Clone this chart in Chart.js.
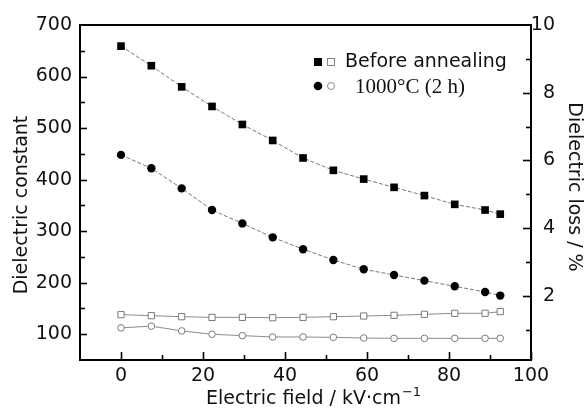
<!DOCTYPE html>
<html>
<head>
<meta charset="utf-8">
<script src="https://cdn.jsdelivr.net/npm/chart.js@4/dist/chart.umd.min.js"></script>
<style>
  html, body { margin: 0; padding: 0; background: #fff; }
  #wrap { width: 585px; height: 409px; }
</style>
</head>
<body>
<div id="wrap"><canvas id="dielChart" width="585" height="409"></canvas></div>
<script>
// electric field (kV/cm) at each measuring point
var fieldValues = [0, 7.4, 14.8, 22.2, 29.6, 37, 44.4, 51.8, 59.2, 66.6, 74, 81.4, 88.8, 92.5];

// dielectric constant (left axis)
var beforeConstant = [659, 621, 580, 542, 507, 476, 442, 418, 401, 385, 369, 352, 341, 333];
var annealedConstant = [448, 422, 383, 341, 315, 288, 265, 244, 226, 215, 204, 193, 182, 175];

// dielectric loss in % (right axis)
var beforeLoss = [1.44, 1.41, 1.38, 1.36, 1.36, 1.35, 1.36, 1.38, 1.40, 1.42, 1.45, 1.48, 1.48, 1.53];
var annealedLoss = [1.05, 1.10, 0.96, 0.86, 0.82, 0.78, 0.78, 0.77, 0.75, 0.74, 0.74, 0.74, 0.74, 0.74];

var xLabels = [0, 20, 40, 60, 80, 100];
var leftLabels = [100, 200, 300, 400, 500, 600, 700];
var rightLabels = [2, 4, 6, 8, 10];

var legendNames = ['Before annealing', '1000\u00B0C (2 h)'];
var xTitle = 'Electric field / kV\u00B7cm';
var leftTitle = 'Dielectric constant';
var rightTitle = 'Dielectric loss / %';

var sans = '"DejaVu Sans", sans-serif';
var serif = '"Liberation Serif", "Times New Roman", serif';
var ink = '#111';

function pts(ys) {
  return ys.map(function (v, i) { return { x: fieldValues[i], y: v }; });
}

// inward tick marks, top frame line, axis titles and the legend box
var decorations = {
  id: 'decorations',
  afterDraw: function (chart) {
    var ctx = chart.ctx;
    var a = chart.chartArea;
    var sx = chart.scales.x, sy = chart.scales.y, sr = chart.scales.y1;
    ctx.save();
    ctx.strokeStyle = '#000';
    ctx.lineWidth = 2;
    ctx.beginPath();
    ctx.moveTo(a.left - 1, a.top);
    ctx.lineTo(a.right + 1, a.top);
    ctx.stroke();

    ctx.lineWidth = 1.6;
    sx.ticks.forEach(function (t) {
      if (t.value <= sx.min || t.value > sx.max) return;
      var len = xLabels.indexOf(t.value) >= 0 ? 8 : 5;
      var px = Math.round(sx.getPixelForValue(t.value)) + 0.5;
      ctx.beginPath(); ctx.moveTo(px, a.bottom); ctx.lineTo(px, a.bottom - len); ctx.stroke();
    });
    sy.ticks.forEach(function (t) {
      if (t.value <= sy.min || t.value >= sy.max) return;
      var len = leftLabels.indexOf(t.value) >= 0 ? 7 : 5;
      var py = Math.round(sy.getPixelForValue(t.value)) + 0.5;
      ctx.beginPath(); ctx.moveTo(a.left, py); ctx.lineTo(a.left + len, py); ctx.stroke();
    });
    sr.ticks.forEach(function (t) {
      if (t.value <= sr.min || t.value >= sr.max) return;
      var len = rightLabels.indexOf(t.value) >= 0 ? 8 : 5;
      var py = Math.round(sr.getPixelForValue(t.value)) + 0.5;
      ctx.beginPath(); ctx.moveTo(a.right, py); ctx.lineTo(a.right - len, py); ctx.stroke();
    });

    // axis titles
    ctx.fillStyle = ink;
    ctx.font = '19px ' + sans;
    ctx.textAlign = 'center';
    ctx.textBaseline = 'middle';
    ctx.save();
    ctx.translate(22, 205);
    ctx.rotate(-Math.PI / 2);
    ctx.fillText(leftTitle, 0, 0);
    ctx.restore();
    ctx.save();
    ctx.translate(574, 187);
    ctx.rotate(Math.PI / 2);
    ctx.fillText(rightTitle, 0, 0);
    ctx.restore();

    ctx.textAlign = 'left';
    ctx.textBaseline = 'alphabetic';
    ctx.fillText(xTitle, 206, 404);
    var w = ctx.measureText(xTitle).width;
    ctx.font = '13px ' + sans;
    ctx.fillText('\u22121', 206 + w + 1, 396);

    // legend
    ctx.fillStyle = '#000';
    ctx.fillRect(314, 58, 8, 8);
    ctx.strokeStyle = '#888';
    ctx.lineWidth = 1;
    ctx.fillStyle = '#fff';
    ctx.fillRect(327.5, 58.5, 7, 7);
    ctx.strokeRect(327.5, 58.5, 7, 7);
    ctx.fillStyle = '#000';
    ctx.beginPath(); ctx.arc(318, 86, 4.3, 0, Math.PI * 2); ctx.fill();
    ctx.beginPath(); ctx.arc(331, 86, 3.5, 0, Math.PI * 2); ctx.stroke();

    ctx.fillStyle = ink;
    ctx.font = '19px ' + sans;
    ctx.fillText(legendNames[0], 345, 67);
    ctx.font = '21px ' + serif;
    ctx.fillText(legendNames[1], 355, 93);
    ctx.restore();
  }
};

var canvas = document.getElementById('dielChart');

var dielChart = new Chart(canvas, {
  type: 'line',
  data: {
    datasets: [{
      label: legendNames[0] + ' loss',
      data: pts(beforeLoss),
      yAxisID: 'y1',
      borderColor: '#8a8a8a',
      borderWidth: 1,
      pointStyle: 'rect',
      pointRadius: 4.4,
      pointBorderColor: '#7a7a7a',
      pointBackgroundColor: '#fff',
      pointBorderWidth: 1
    }, {
      label: legendNames[1] + ' loss',
      data: pts(annealedLoss),
      yAxisID: 'y1',
      borderColor: '#8a8a8a',
      borderWidth: 1,
      pointStyle: 'circle',
      pointRadius: 3.3,
      pointBorderColor: '#7a7a7a',
      pointBackgroundColor: '#fff',
      pointBorderWidth: 1
    }, {
      label: legendNames[0],
      data: pts(beforeConstant),
      yAxisID: 'y',
      borderColor: '#777',
      borderWidth: 1,
      borderDash: [4, 2],
      pointStyle: 'rect',
      pointRadius: 5.4,
      pointBorderColor: '#000',
      pointBackgroundColor: '#000',
      pointBorderWidth: 0
    }, {
      label: legendNames[1],
      data: pts(annealedConstant),
      yAxisID: 'y',
      borderColor: '#777',
      borderWidth: 1,
      borderDash: [4, 2],
      pointStyle: 'circle',
      pointRadius: 4.2,
      pointBorderColor: '#000',
      pointBackgroundColor: '#000',
      pointBorderWidth: 0
    }]
  },
  options: {
    responsive: false,
    animation: false,
    devicePixelRatio: 1,
    layout: { padding: { top: 25, left: 0, right: 30, bottom: 0 } },
    plugins: {
      legend: { display: false },
      tooltip: { enabled: false }
    },
    scales: {
      x: {
        type: 'linear',
        position: 'bottom',
        min: -10,
        max: 100,
        afterFit: function (s) { s.height = 49; },
        grid: { display: false, drawTicks: false },
        border: { display: true, color: '#000', width: 2 },
        ticks: {
          stepSize: 10,
          autoSkip: false,
          maxRotation: 0,
          padding: 5,
          color: ink,
          font: { family: sans, size: 19 },
          callback: function (v) { return xLabels.indexOf(v) >= 0 ? String(v) : ''; }
        }
      },
      y: {
        position: 'left',
        min: 50,
        max: 700,
        afterFit: function (s) { s.width = 80; },
        grid: { display: false, drawTicks: false },
        border: { display: true, color: '#000', width: 2 },
        ticks: {
          stepSize: 50,
          autoSkip: false,
          padding: 8,
          color: ink,
          font: { family: sans, size: 19 },
          callback: function (v) { return leftLabels.indexOf(v) >= 0 ? String(v) : ''; }
        }
      },
      y1: {
        position: 'right',
        min: 0.1,
        max: 10,
        afterFit: function (s) { s.width = 24; },
        grid: { display: false, drawTicks: false },
        border: { display: true, color: '#000', width: 2 },
        ticks: {
          stepSize: 1,
          includeBounds: false,
          autoSkip: false,
          padding: 2,
          crossAlign: 'far',
          color: ink,
          font: { family: sans, size: 19 },
          callback: function (v) { return rightLabels.indexOf(v) >= 0 ? String(v) : ''; }
        }
      }
    }
  },
  plugins: [decorations]
});
</script>
</body>
</html>
